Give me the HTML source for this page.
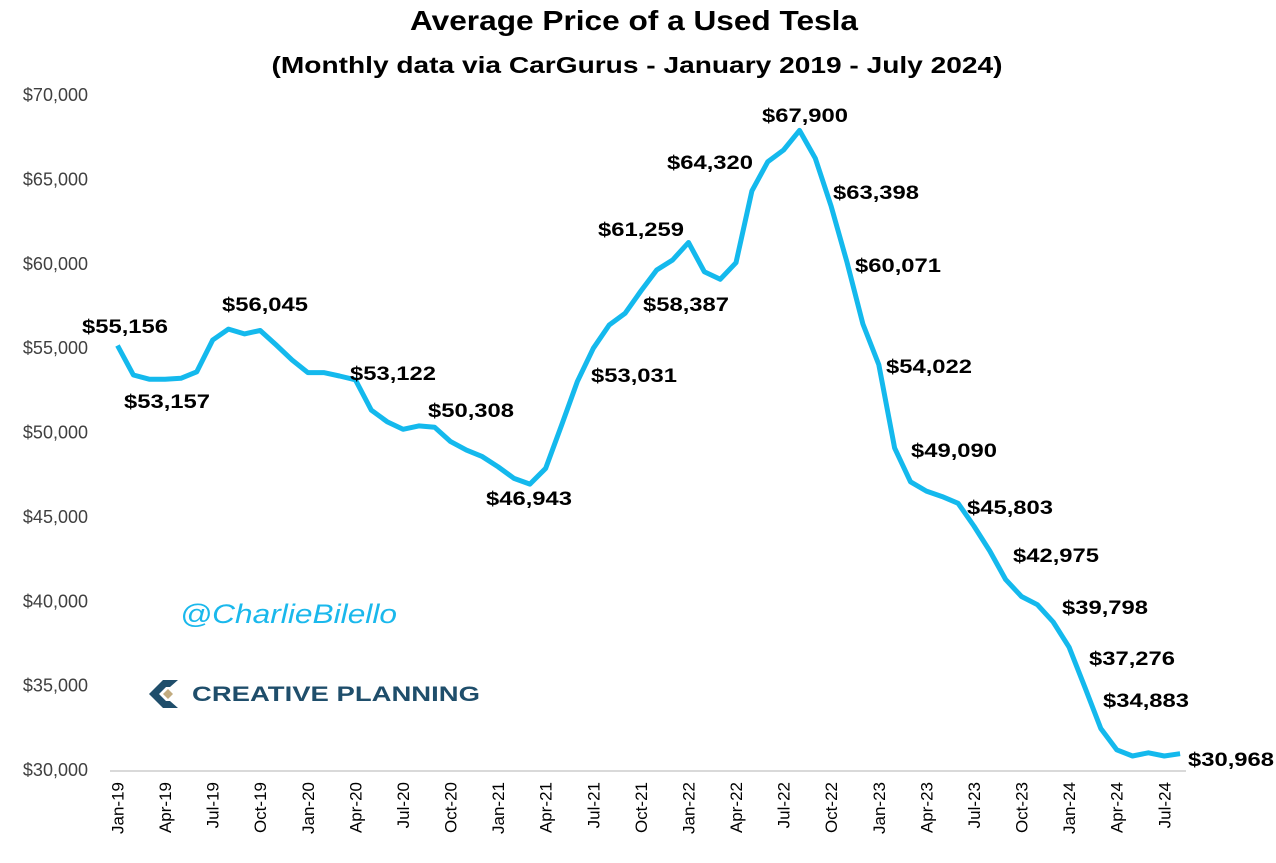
<!DOCTYPE html>
<html><head><meta charset="utf-8"><style>
html,body{margin:0;padding:0;background:#fff;}
svg{display:block;font-family:"Liberation Sans",Arial,sans-serif;}
</style></head><body>
<svg id="chart" width="1276" height="863" viewBox="0 0 1276 863" xmlns="http://www.w3.org/2000/svg">
<text x="634" y="30" text-anchor="middle" font-size="28" font-weight="bold" textLength="448" lengthAdjust="spacingAndGlyphs" fill="#000">Average Price of a Used Tesla</text>
<text x="637" y="73" text-anchor="middle" font-size="23" font-weight="bold" textLength="731" lengthAdjust="spacingAndGlyphs" fill="#000">(Monthly data via CarGurus - January 2019 - July 2024)</text>
<g id="yaxis"></g>
<g id="xaxis"></g>
<line x1="110" y1="771" x2="1186" y2="771" stroke="#d9d9d9" stroke-width="2"/>
<g id="series"></g>
<g id="labels"></g>
<text x="180" y="623" font-size="27" font-style="italic" fill="#1ab8ec" textLength="217" lengthAdjust="spacingAndGlyphs">@CharlieBilello</text>
<g>
  <path d="M178 680 L163 680 L149 694 L163 708 L178 708 L170 701 L166 701 L159 694 L166 687 L170 687 Z" fill="#1f4e6b"/>
  <path d="M163 694 L168 689 L173 694 L168 699 Z" fill="#c2ab7f"/>
  <text x="192" y="701" font-size="21" font-weight="bold" fill="#1f4e6b" textLength="288" lengthAdjust="spacingAndGlyphs">CREATIVE PLANNING</text>
</g>
<script>
const months = ["Jan-19","Feb-19","Mar-19","Apr-19","May-19","Jun-19","Jul-19","Aug-19","Sep-19","Oct-19","Nov-19","Dec-19",
"Jan-20","Feb-20","Mar-20","Apr-20","May-20","Jun-20","Jul-20","Aug-20","Sep-20","Oct-20","Nov-20","Dec-20",
"Jan-21","Feb-21","Mar-21","Apr-21","May-21","Jun-21","Jul-21","Aug-21","Sep-21","Oct-21","Nov-21","Dec-21",
"Jan-22","Feb-22","Mar-22","Apr-22","May-22","Jun-22","Jul-22","Aug-22","Sep-22","Oct-22","Nov-22","Dec-22",
"Jan-23","Feb-23","Mar-23","Apr-23","May-23","Jun-23","Jul-23","Aug-23","Sep-23","Oct-23","Nov-23","Dec-23",
"Jan-24","Feb-24","Mar-24","Apr-24","May-24","Jun-24","Jul-24","Aug-24"];
const prices = [55156,53407,53157,53150,53210,53600,55480,56130,55840,56045,55190,54300,
53550,53550,53350,53122,51330,50640,50190,50390,50308,49460,48960,48570,
47970,47280,46943,47880,50440,53031,54990,56370,57060,58387,59630,60220,
61259,59530,59080,60060,64320,66050,66740,67900,66250,63398,60071,56430,
54022,49090,47080,46530,46200,45803,44460,42975,41280,40280,39798,38770,
37276,34883,32460,31200,30830,31020,30830,30968];
const labelIdx = [0,2,9,15,20,26,29,33,36,40,43,45,46,48,49,53,55,58,60,61,67];
const yTicks = [30000,35000,40000,45000,50000,55000,60000,65000,70000];
const xTickLabels = ["Jan-19","Apr-19","Jul-19","Oct-19","Jan-20","Apr-20","Jul-20","Oct-20","Jan-21","Apr-21","Jul-21","Oct-21","Jan-22","Apr-22","Jul-22","Oct-22","Jan-23","Apr-23","Jul-23","Oct-23","Jan-24","Apr-24","Jul-24"];
// label layout offsets (pixel placement, not data)
const labelPos = [[82,326],[124,401],[222,304],[350,373],[428,410],[486,498],[591,375],[643,304],[598,229],[667,162],[762,115],[833,192],[855,265],[886,366],[911,450],[967,507],[1013,555],[1062,607],[1089,658],[1103,700],[1188,759]];

const NS = "http://www.w3.org/2000/svg";
const x = i => 117.5 + i * 15.86;
const y = v => 770 - (v - 30000) * 675 / 40000;
const fmt = v => "$" + v.toLocaleString("en-US");

const ya = document.getElementById("yaxis");
yTicks.forEach(t => {
  const el = document.createElementNS(NS, "text");
  
  
  el.setAttribute("x", 88); el.setAttribute("y", y(t) + 6);
  el.setAttribute("text-anchor", "end"); el.setAttribute("font-size", "18");
  el.setAttribute("fill", "#404040");
  el.textContent = fmt(t);
  ya.appendChild(el);
});
const xa = document.getElementById("xaxis");
xTickLabels.forEach(lbl => {
  const i = months.indexOf(lbl);
  const el = document.createElementNS(NS, "text");
  
  
  const cx = x(i) + 6;
  el.setAttribute("x", cx); el.setAttribute("y", 782);
  el.setAttribute("transform", "rotate(-90 " + cx + " 782)");
  el.setAttribute("text-anchor", "end"); el.setAttribute("font-size", "17");
  el.setAttribute("fill", "#000");
  el.textContent = lbl;
  xa.appendChild(el);
});
const path = document.createElementNS(NS, "polyline");


path.setAttribute("points", prices.map((v, i) => x(i).toFixed(1) + "," + y(v).toFixed(1)).join(" "));
path.setAttribute("fill", "none"); path.setAttribute("stroke", "#14b9ed");
path.setAttribute("stroke-width", "5"); path.setAttribute("stroke-linejoin", "round");
document.getElementById("series").appendChild(path);
const lg = document.getElementById("labels");
labelIdx.forEach((i, k) => {
  const el = document.createElementNS(NS, "text");
  
  
  el.setAttribute("x", labelPos[k][0]); el.setAttribute("y", labelPos[k][1] + 7);
  el.setAttribute("font-size", "19"); el.setAttribute("font-weight", "bold");
  el.setAttribute("fill", "#000");
  el.setAttribute("textLength", "86"); el.setAttribute("lengthAdjust", "spacingAndGlyphs");
  el.textContent = fmt(prices[i]);
  lg.appendChild(el);
});
</script>
</svg>
</body></html>
